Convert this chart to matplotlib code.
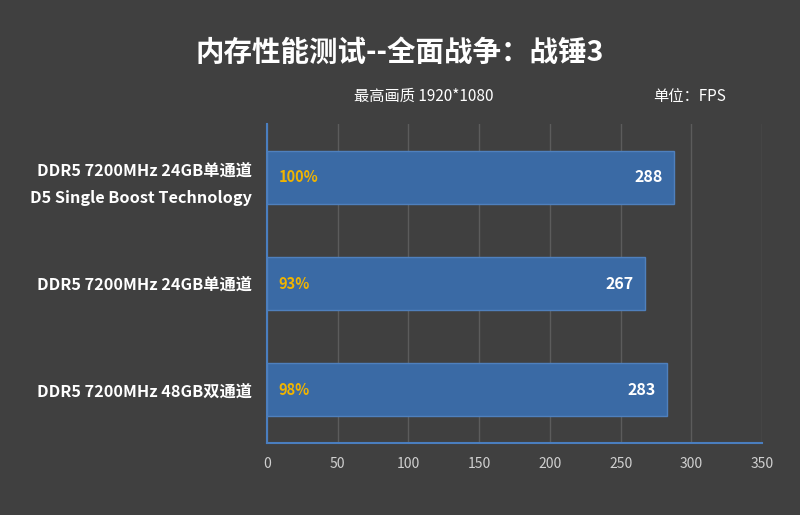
import matplotlib
matplotlib.use("Agg")
import matplotlib.pyplot as plt

plt.rcParams['font.family'] = ['Noto Sans CJK SC', 'DejaVu Sans']

# data
labels = ['DDR5 7200MHz 24GB单通道\nD5 Single Boost Technology',
          'DDR5 7200MHz 24GB单通道',
          'DDR5 7200MHz 48GB双通道']
fps = [288, 267, 283]
pct = ['100%', '93%', '98%']
xticks = [0, 50, 100, 150, 200, 250, 300, 350]

bg = '#404040'
bar_c = '#3a6aa5'
spine_c = '#4a7ebf'

fig = plt.figure(figsize=(8, 5.15), dpi=100, facecolor=bg)
ax = fig.add_axes([0.33375, 0.1398, 0.61875, 0.6194], facecolor=bg)

ypos = list(range(len(labels)))
ax.barh(ypos, fps, height=0.5, color=bar_c, edgecolor='#4f80bd', linewidth=1, zorder=3)

ax.set_xlim(0, 350)
ax.set_ylim(2.5, -0.5)
ax.set_xticks(xticks)
ax.set_xticklabels([str(t) for t in xticks], color='#d0d0d0', fontsize=10)
ax.tick_params(axis='x', length=0, pad=10)
ax.set_yticks(ypos)
ax.set_yticklabels(labels, color='white', fontsize=11.7, fontweight='bold', linespacing=1.85)
ax.tick_params(axis='y', length=0, pad=11)
ax.grid(axis='x', color='#5c5c5c', linewidth=1, zorder=0)

for s in ['top', 'right']:
    ax.spines[s].set_visible(False)
for s in ['left', 'bottom']:
    ax.spines[s].set_color(spine_c)
    ax.spines[s].set_linewidth(1.5)

for y, v, p in zip(ypos, fps, pct):
    ax.text(8, y, p, color='#f0b400', fontsize=10.5, fontweight='bold',
            ha='left', va='center', zorder=4)
    ax.text(v - 8, y, str(v), color='white', fontsize=11.5, fontweight='bold',
            ha='right', va='center', zorder=4)

fig.text(0.5, 0.898, '内存性能测试--全面战争：战锤3', color='white', fontsize=20.5,
         fontweight='bold', ha='center', va='center')
fig.text(0.53, 0.813, '最高画质 1920*1080', color='white', fontsize=11,
         ha='center', va='center')
fig.text(0.862, 0.813, '单位：FPS', color='white', fontsize=11,
         ha='center', va='center')

fig.savefig('out.png', dpi=100, facecolor=bg)
